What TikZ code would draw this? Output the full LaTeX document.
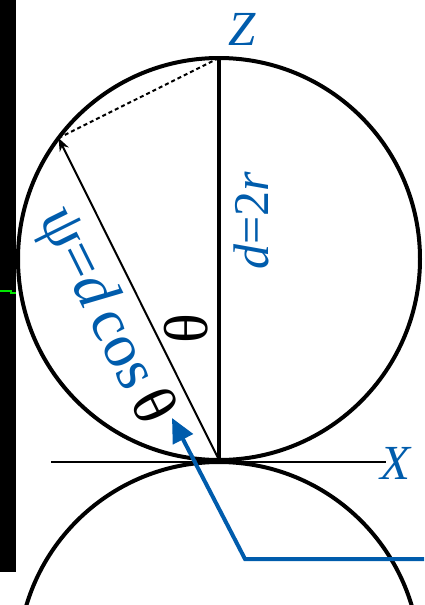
\documentclass[tikz,border=0pt]{standalone}
\usepackage{fontspec}
\setmainfont{Liberation Serif}
\usetikzlibrary{arrows.meta}
\definecolor{azul}{RGB}{0,92,172}
\definecolor{verde}{RGB}{0,230,0}

\begin{document}
\begin{tikzpicture}[x=1pt, y=-1pt,
	etiqueta/.style={azul, inner sep=0pt, font=\fontsize{49}{49}\selectfont},
	circulo/.style={line width=4pt}]
		\useasboundingbox (0,0) rectangle (424,605);
		
		% Barra lateral
		\fill[black] (0,0) rectangle (15.5,572);
		\draw[verde, line width=2pt] (0,291) -- (11,291) -- (11,293) -- (16,293);
		
		% Puntos principales
		\coordinate (O) at (219,460);
		\coordinate (T) at (219,58);
		\coordinate (P) at (58.5,138);
		\coordinate (Xa) at (51,462);
		\coordinate (Xb) at (386,462);
		\coordinate (E) at (424,559);
		\coordinate (C) at (245,559);
		\coordinate (F) at (172,418);
		
		% Circulo inferior (recortado)
		\begin{scope}
			\clip (0,0) rectangle (424,605);
			\draw[circulo] (219,663) circle[radius=201pt];
		\end{scope}
		
		% Circulo superior
		\draw[circulo] (219,259) circle[radius=201pt];
		
		% Eje X
		\draw[line width=2.2pt] (Xa) -- (Xb);
		\node[etiqueta] (x) at (396,463) {\textit{X}};
		
		% Diametro vertical
		\draw[line width=3.2pt] (T) -- (O);
		\node[etiqueta] (z) at (242,29) {\textit{Z}};
		\node[etiqueta, rotate=90, font=\fontsize{50}{50}\selectfont] (d) at (251,221) {\textit{d}=2\textit{r}};
		
		% Cuerda y proyeccion
		\draw[line width=2pt, -{Stealth[length=13pt,width=10pt]}] (O) -- (P);
		\draw[line width=2pt, dash pattern=on 4pt off 3pt] (P) -- (T);
		\node[etiqueta, rotate=-63.6, font=\fontsize{62}{62}\selectfont] (psi) at (104,317) {ψ=\textit{d}\kern0.12em cos\kern0.15em{\color{black}θ}};
		\node[inner sep=0pt, rotate=90, font=\fontsize{62}{62}\selectfont] (theta) at (186,329) {θ};
		
		% Flecha azul
		\draw[azul, line width=4pt, -{Triangle[length=24pt,width=22pt]}] (E) -- (C) -- (F);
		
	\end{tikzpicture}
\end{document}
